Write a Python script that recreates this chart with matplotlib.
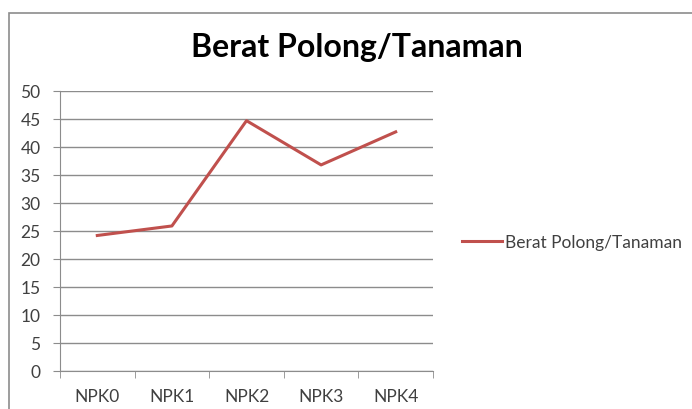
import numpy as np
import matplotlib.pyplot as plt
from matplotlib.patches import Rectangle

categories = ['NPK0', 'NPK1', 'NPK2', 'NPK3', 'NPK4']
berat = [24.2, 25.9, 44.7, 36.8, 42.7]
series_name = 'Berat Polong/Tanaman'
y_ticks = [0, 5, 10, 15, 20, 25, 30, 35, 40, 45, 50]

plt.rcParams['font.family'] = ['Lato', 'DejaVu Sans']

W, H = 692, 410
fig = plt.figure(figsize=(W / 100, H / 100), dpi=100)
fig.patch.set_facecolor('white')

# chart frame (cut off at right and bottom like the screenshot)
fig.patches.append(Rectangle((9 / W, -0.1), 1.1, 1 - 14 / H + 0.1,
                             transform=fig.transFigure, fill=False,
                             edgecolor='#8c8c8c', linewidth=1.2))

ax = fig.add_axes([60 / W, 1 - 372 / H, (433 - 60) / W, (372 - 92) / H])
x = np.arange(len(categories))
ax.plot(x, berat, color='#c0504d', linewidth=2.2, label=series_name)

ax.set_xlim(-0.5, len(categories) - 0.5)
ax.set_ylim(0, 50)
ax.set_yticks(y_ticks)
ax.set_xticks(x)
ax.set_xticklabels(categories)
ax.set_xticks(np.arange(len(categories) + 1) - 0.5, minor=True)
ax.tick_params(axis='x', which='major', length=0, pad=12, labelsize=12.5, colors='#404040')
ax.tick_params(axis='x', which='minor', length=5, color='#8c8c8c')
ax.tick_params(axis='y', length=5, color='#8c8c8c', labelsize=12.5, labelcolor='#404040', pad=9)
ax.grid(axis='y', color='#8c8c8c', linewidth=1)
ax.set_axisbelow(True)
for s in ['top', 'right']:
    ax.spines[s].set_visible(False)
ax.spines['left'].set_color('#8c8c8c')
ax.spines['bottom'].set_color('#8c8c8c')

fig.text(357 / W, 1 - 48 / H, series_name, ha='center', va='center',
         fontsize=23, fontweight='bold', color='black')

ax.legend(loc='center left', bbox_to_anchor=(446 / W, 1 - 243 / H),
          bbox_transform=fig.transFigure, frameon=False, fontsize=12.5,
          handlelength=2.3, handletextpad=0.2, labelcolor='#404040')

fig.savefig('out.png', dpi=100)
